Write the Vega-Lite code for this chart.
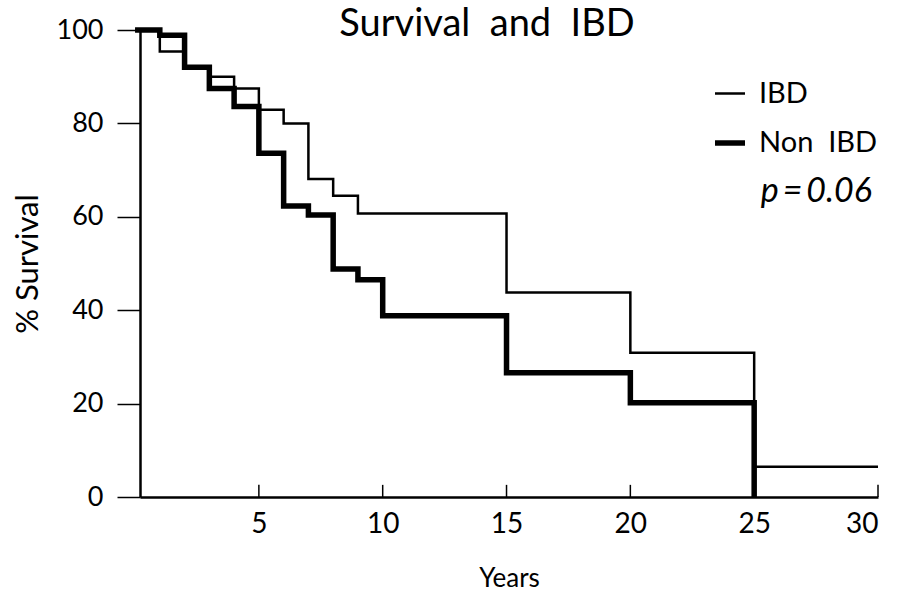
{
  "$schema": "https://vega.github.io/schema/vega-lite/v6.json",
  "width": 738,
  "height": 467,
  "autosize": "none",
  "padding": {"left": 140, "top": 30, "right": 40, "bottom": 95},
  "background": "white",
  "title": {"text": "Survival\u00a0\u00a0and\u00a0\u00a0IBD", "fontSize": 38, "font": "Lato", "fontWeight": "normal", "color": "black", "anchor": "middle", "dx": -22, "dy": 28, "offset": 0},
  "config": {"view": {"stroke": null}, "font": "Lato"},
  "layer": [
    {
      "data": {"values": [
        {"group": "IBD", "year": 0, "survival": 100},
        {"group": "IBD", "year": 1, "survival": 95.4},
        {"group": "IBD", "year": 2, "survival": 92.0},
        {"group": "IBD", "year": 3, "survival": 90.0},
        {"group": "IBD", "year": 4, "survival": 87.5},
        {"group": "IBD", "year": 5, "survival": 82.9},
        {"group": "IBD", "year": 6, "survival": 80.0},
        {"group": "IBD", "year": 7, "survival": 68.1},
        {"group": "IBD", "year": 8, "survival": 64.5},
        {"group": "IBD", "year": 9, "survival": 60.7},
        {"group": "IBD", "year": 15, "survival": 43.8},
        {"group": "IBD", "year": 20, "survival": 30.9},
        {"group": "IBD", "year": 25, "survival": 6.5},
        {"group": "IBD", "year": 30, "survival": 6.5},
        {"group": "Non IBD", "year": 0, "survival": 100},
        {"group": "Non IBD", "year": 1, "survival": 98.9},
        {"group": "Non IBD", "year": 2, "survival": 92.0},
        {"group": "Non IBD", "year": 3, "survival": 87.5},
        {"group": "Non IBD", "year": 4, "survival": 83.6},
        {"group": "Non IBD", "year": 5, "survival": 73.6},
        {"group": "Non IBD", "year": 6, "survival": 62.3},
        {"group": "Non IBD", "year": 7, "survival": 60.4},
        {"group": "Non IBD", "year": 8, "survival": 48.8},
        {"group": "Non IBD", "year": 9, "survival": 46.5},
        {"group": "Non IBD", "year": 10, "survival": 38.8},
        {"group": "Non IBD", "year": 15, "survival": 26.6},
        {"group": "Non IBD", "year": 20, "survival": 20.2},
        {"group": "Non IBD", "year": 25, "survival": 0}
      ]},
      "mark": {"type": "line", "interpolate": "step-after", "color": "black", "strokeJoin": "miter"},
      "encoding": {
        "x": {"field": "year", "type": "quantitative",
          "scale": {"domain": [0.2, 30], "nice": false, "zero": false},
          "axis": {"values": [5, 10, 15, 20, 25, 30], "ticks": false,
            "domainColor": "black", "domainWidth": 2.5, "grid": false,
            "labelFontSize": 28, "labelColor": "black", "labelPadding": 13, "labelFont": "Lato",
            "title": "Years", "titleFontSize": 26, "titleFontWeight": "normal", "titleColor": "black", "titleFont": "Lato", "titlePadding": 27}},
        "y": {"field": "survival", "type": "quantitative",
          "scale": {"domain": [0, 100], "nice": false},
          "axis": {"values": [0, 20, 40, 60, 80, 100], "tickSize": 23, "tickWidth": 1.5, "tickColor": "black",
            "domainColor": "black", "domainWidth": 2.5, "grid": false,
            "labelFontSize": 27, "labelColor": "black", "labelPadding": 14, "labelFont": "Lato",
            "title": "% Survival", "titleFontSize": 31, "titleFontWeight": "normal", "titleColor": "black", "titleFont": "Lato", "titlePadding": 12}},
        "strokeWidth": {"field": "group", "type": "ordinal",
          "scale": {"domain": ["IBD", "Non IBD"], "range": [2.5, 5.5]},
          "legend": {"orient": "none", "legendX": 572, "legendY": 47, "title": null, "symbolType": "stroke",
            "symbolSize": 900, "symbolStrokeColor": "black", "labelFontSize": 29, "labelColor": "black", "labelFont": "Lato",
            "rowPadding": 16, "labelOffset": 11,
            "labelExpr": "replace(datum.label, ' ', '\u00a0\u00a0')"}}
      }
    },
    {
      "data": {"values": [{"year": 29.75, "survival": 65.3, "label": "p\u2009=\u20090.06"}]},
      "mark": {"type": "text", "align": "right", "baseline": "middle", "fontStyle": "italic", "fontSize": 34, "font": "Lato", "color": "black"},
      "encoding": {
        "x": {"field": "year", "type": "quantitative"},
        "y": {"field": "survival", "type": "quantitative"},
        "text": {"field": "label"}
      }
    },
    {
      "data": {"values": [
        {"year": 5, "low": 0, "high": 2.6},
        {"year": 10, "low": 0, "high": 2.6},
        {"year": 15, "low": 0, "high": 2.6},
        {"year": 20, "low": 0, "high": 2.6},
        {"year": 25, "low": 0, "high": 2.6},
        {"year": 30, "low": 0, "high": 2.6}
      ]},
      "mark": {"type": "rule", "color": "black", "strokeWidth": 1.5},
      "encoding": {
        "x": {"field": "year", "type": "quantitative"},
        "y": {"field": "low", "type": "quantitative"},
        "y2": {"field": "high"}
      }
    }
  ]
}
